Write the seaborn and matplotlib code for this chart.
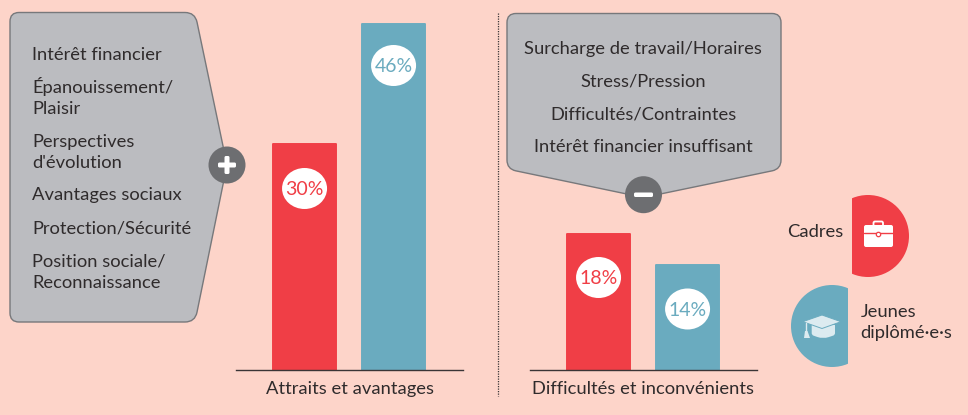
import seaborn as sns
import matplotlib.pyplot as plt
import pandas as pd
from matplotlib.patches import Circle, Ellipse, PathPatch, Polygon, Rectangle, FancyBboxPatch
from matplotlib.path import Path

W, H = 968, 415
BG = '#fdd4c9'
RED = '#f03e46'
BLUE = '#6aabbf'
TXT = '#2f2b2c'
GREY = '#bbbcc0'
DARK = '#6d6e71'
FONT = ['Lato', 'DejaVu Sans']
FS = 13.2

groups = ['Cadres', 'Jeunes diplômé·e·s']
attraits = [30, 46]
difficultes = [18, 14]
left_lines = ['Intérêt financier', 'Épanouissement/', 'Plaisir', 'Perspectives', "d'évolution",
              'Avantages sociaux', 'Protection/Sécurité', 'Position sociale/', 'Reconnaissance']
right_lines = ['Surcharge de travail/Horaires', 'Stress/Pression',
               'Difficultés/Contraintes', 'Intérêt financier insuffisant']


def roundedPoly(points, radius):
    # polygon with rounded corners, a tiny radius keeps the corner sharp
    verts, codes = [], []
    n = len(points)
    for i in range(n):
        x, y = points[i]
        r = radius[i]
        px, py = points[i - 1]
        nx, ny = points[(i + 1) % n]
        d1 = ((px - x) ** 2 + (py - y) ** 2) ** 0.5
        d2 = ((nx - x) ** 2 + (ny - y) ** 2) ** 0.5
        start = (x + (px - x) * r / d1, y + (py - y) * r / d1)
        end = (x + (nx - x) * r / d2, y + (ny - y) * r / d2)
        verts.append(start)
        codes.append(Path.MOVETO if i == 0 else Path.LINETO)
        verts += [(x, y), end]
        codes += [Path.CURVE3, Path.CURVE3]
    verts.append(verts[0])
    codes.append(Path.CLOSEPOLY)
    return Path(verts, codes)


def barPanel(fig, left, values, label):
    ax = fig.add_axes([left / W, (H - 369.5) / H, 227 / W, 350 / H])
    data = pd.DataFrame({'groupe': groups, 'valeur': values})
    sns.barplot(data=data, x='groupe', y='valeur', hue='groupe', palette=[RED, BLUE],
                width=0.71, dodge=False, legend=False, saturation=1, ax=ax)
    for bar, color in zip(ax.patches, [RED, BLUE]):
        bar.set_edgecolor(color)
        bar.set_linewidth(1.4)
        bar.set_joinstyle('round')
    ax.set_xlim(-0.77, 1.78)
    ax.set_ylim(0, 350 / 7.5)
    ax.patch.set_alpha(0)
    sns.despine(ax=ax, left=True)
    ax.spines['bottom'].set_color('#3a3536')
    ax.spines['bottom'].set_linewidth(1)
    ax.spines['bottom'].set_zorder(5)
    ax.set_yticks([])
    ax.set_xticks([])
    ax.set_ylabel('')
    ax.set_xlabel(label, fontsize=FS, color=TXT, labelpad=8, family=FONT)
    return ax


def valueLabels(ax, over, values, offsets):
    for i, v in enumerate(values):
        disp = ax.transData.transform((i, v))
        x, y = over.transData.inverted().transform(disp)
        color = [RED, BLUE][i]
        y = y + offsets[i]
        over.add_patch(Ellipse((x, y), 45, 41, fc='white', ec='none', zorder=6))
        over.text(x, y + 1, str(v) + '%', color=color, fontsize=FS + 0.8, family=FONT,
                  ha='center', va='center', zorder=7)


sns.set_theme(style='white')
plt.rcParams['font.family'] = FONT
fig = plt.figure(figsize=(W / 100, H / 100), dpi=100, facecolor=BG)

ax1 = barPanel(fig, 236, attraits, 'Attraits et avantages')
ax2 = barPanel(fig, 530, difficultes, 'Difficultés et inconvénients')

over = fig.add_axes([0, 0, 1, 1])
over.set_xlim(0, W)
over.set_ylim(H, 0)
over.axis('off')
over.patch.set_alpha(0)

valueLabels(ax1, over, attraits, [44, 41])
valueLabels(ax2, over, difficultes, [43, 44.5])

# callouts
left_box = [(10, 12.5), (195, 12.5), (227, 165), (195, 322), (10, 322)]
over.add_patch(PathPatch(roundedPoly(left_box, [9, 10, 0.1, 10, 9]), fc=GREY, ec='#77787b', lw=1, zorder=2))
right_box = [(507, 13.5), (781, 13.5), (781, 169), (643.5, 197.5), (507, 169)]
over.add_patch(PathPatch(roundedPoly(right_box, [9, 9, 9, 0.1, 9]), fc=GREY, ec='#77787b', lw=1, zorder=2))

for line, y in zip(left_lines, [60, 92.7, 114, 146.7, 168, 200, 233, 266.7, 287.5]):
    over.text(32.5, y, line, fontsize=FS, color=TXT, family=FONT, va='baseline', zorder=3)
for line, y in zip(right_lines, [54, 86.7, 119, 152]):
    over.text(643, y, line, fontsize=FS, color=TXT, family=FONT, ha='center', va='baseline', zorder=3)

# plus and minus badges
over.add_patch(Circle((227, 165), 18.5, fc=DARK, ec='none', zorder=4))
over.add_patch(FancyBboxPatch((218, 162.5), 18, 5, boxstyle='round,pad=0,rounding_size=1.5', fc='white', ec='none', zorder=5))
over.add_patch(FancyBboxPatch((224.5, 156), 5, 18, boxstyle='round,pad=0,rounding_size=1.5', fc='white', ec='none', zorder=5))
over.add_patch(Circle((643.5, 194.7), 18.5, fc=DARK, ec='none', zorder=4))
over.add_patch(FancyBboxPatch((634, 192.5), 19, 4.5, boxstyle='round,pad=0,rounding_size=1.5', fc='white', ec='none', zorder=5))

# separator
over.plot([497.5, 497.5], [13, 396], color='#3a3536', lw=0.9, ls=(0, (1, 1)), zorder=1)

# legend discs cut on one side
red_disc = Circle((868, 236), 41, fc=RED, ec='none', zorder=2)
over.add_patch(red_disc)
red_disc.set_clip_path(Rectangle((851.7, 190), 70, 92, transform=over.transData))
blue_disc = Circle((832, 326), 41, fc=BLUE, ec='none', zorder=2)
over.add_patch(blue_disc)
blue_disc.set_clip_path(Rectangle((785, 280), 62.7, 92, transform=over.transData))

# briefcase
over.add_patch(FancyBboxPatch((873.5, 221.5), 9.5, 6, boxstyle='round,pad=0,rounding_size=1.5', fc='none', ec='white', lw=1.3, zorder=3))
over.add_patch(FancyBboxPatch((864, 225), 29, 22, boxstyle='round,pad=0,rounding_size=2', fc='white', ec='none', zorder=4))
over.plot([864, 893], [233, 233], color=RED, lw=1, zorder=5)
over.add_patch(Circle((878.5, 234.5), 2.2, fc='white', ec=RED, lw=0.9, zorder=6))

# mortarboard
CAP = '#dcebf0'
over.add_patch(PathPatch(roundedPoly([(811.7, 325), (835, 325), (835, 335), (823, 339), (811.7, 335)], [0.1, 0.1, 2, 6, 2]), fc=CAP, ec='none', zorder=3))
over.add_patch(Polygon([(802.7, 321.7), (822, 315), (841, 321.7), (822, 328.5)], closed=True, fc=CAP, ec=BLUE, lw=0.7, zorder=4))
over.plot([806, 806], [323, 332], color=CAP, lw=1, zorder=4)
over.add_patch(Polygon([(805, 331), (807.5, 331), (810, 338), (804, 338)], closed=True, fc=CAP, ec='none', zorder=4))

over.text(787, 236.7, 'Cadres', fontsize=FS, color=TXT, family=FONT, va='baseline')
over.text(860.7, 316.7, 'Jeunes', fontsize=FS, color=TXT, family=FONT, va='baseline')
over.text(860.7, 338.3, 'diplômé·e·s', fontsize=FS, color=TXT, family=FONT, va='baseline')

fig.savefig('out.png', dpi=100, facecolor=BG)
